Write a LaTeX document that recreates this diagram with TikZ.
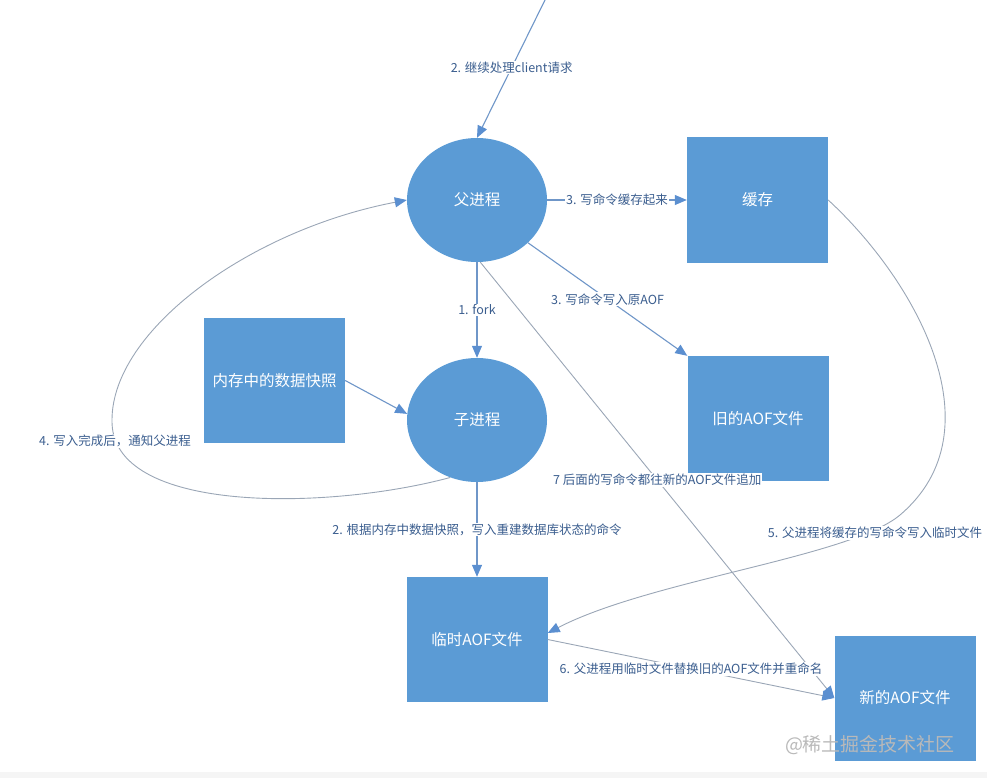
\documentclass[tikz,border=0pt]{standalone}
\usepackage{fontspec}
\setmainfont{Noto Sans CJK SC}
\usetikzlibrary{shapes.geometric,arrows.meta}
\definecolor{boxblue}{HTML}{5B9BD5}
\definecolor{lineblue}{HTML}{6F96C8}
\definecolor{linegray}{HTML}{9AA6B6}
\definecolor{tipblue}{HTML}{5B8FD0}
\definecolor{textblue}{HTML}{3B5E8F}
\tikzset{
  proc/.style={ellipse, fill=boxblue, text=white, minimum width=140pt, minimum height=124pt, inner sep=0pt, font=\fontsize{15.5}{16}\selectfont},
  store/.style={rectangle, fill=boxblue, text=white, minimum width=141pt, minimum height=125pt, inner sep=0pt, font=\fontsize{15.5}{16}\selectfont},
  lbl/.style={fill=white, text=textblue, inner sep=1pt, font=\fontsize{12.5}{13}\selectfont},
  arr/.style={draw=lineblue, line width=1.1pt, -{Triangle[length=12pt,width=10pt,color=tipblue]}},
  garr/.style={draw=linegray, line width=0.9pt, -{Triangle[length=12pt,width=10pt,color=tipblue]}}
}
\begin{document}
\begin{tikzpicture}[x=1pt,y=-1pt]
  \useasboundingbox (0,0) rectangle (987,778);
  \fill[gray!8] (0,772) rectangle (987,778);

  % processes
  \node[proc] (parent) at (477,200) {父进程};
  \node[proc] (child) at (477,420) {子进程};

  % files and buffers
  \node[store] (cache) at (757.5,200) {缓存};
  \node[store] (snap) at (274.5,380.5) {内存中的数据快照};
  \node[store] (oldaof) at (758,418.5) {旧的AOF文件};
  \node[store] (tmpaof) at (477,639.5) {临时AOF文件};
  \node[store] (newaof) at (905,698) {新的AOF文件};
  \coordinate (client) at (545,0);

  % connectors
  \draw[arr] (client) -- (parent.north) node[lbl, pos=0.49] {2. 继续处理client请求};
  \draw[arr] (parent.east) -- (cache.west) node[lbl, midway] {3. 写命令缓存起来};
  \draw[arr] (parent.-40) -- (oldaof.north west) node[lbl, midway] {3. 写命令写入原AOF};
  \draw[arr] (parent.south) -- (child.north) node[lbl, midway] {1. fork};
  \draw[arr] (snap.east) -- (child.175);
  \draw[arr] (child.south) -- (tmpaof.north) node[lbl, midway] {2. 根据内存中数据快照，写入重建数据库状态的命令};
  \draw[garr] (parent.-87) -- (newaof.west) node[lbl, pos=0.5] {7 后面的写命令都往新的AOF文件追加};
  \draw[garr] (tmpaof.east) -- (newaof.west) node[lbl, midway] {6. 父进程用临时文件替换旧的AOF文件并重命名};
  \draw[garr] (child.245) .. controls (330,510) and (110,515) .. (112,420)
    .. controls (112,330) and (250,230) .. (parent.west);
  \node[lbl] (notify) at (115,441) {4. 写入完成后，通知父进程};
  \draw[garr] (cache.east) .. controls (915,280) and (1000,430) .. (900,515)
    .. controls (850,557) and (650,580) .. (tmpaof.east |- 0,633);
  \node[lbl] (flush) at (875,533) {5. 父进程将缓存的写命令写入临时文件};

  % watermark
  \node[text=gray!55, font=\fontsize{19}{19}\selectfont] (mark) at (870,745) {@稀土掘金技术社区};
\end{tikzpicture}
\end{document}
